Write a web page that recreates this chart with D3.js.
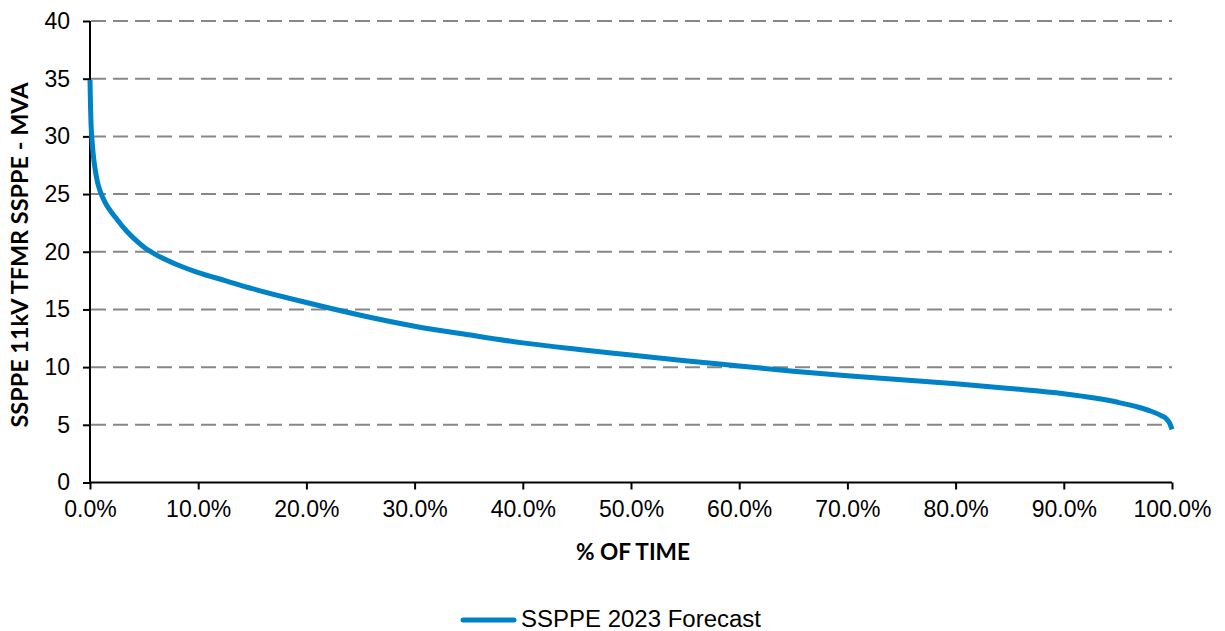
<!DOCTYPE html>
<html>
<head>
<meta charset="utf-8">
<script src="https://cdn.jsdelivr.net/npm/d3@7"></script>
<style>
  html, body { margin: 0; padding: 0; background: #fff; }
  svg { display: block; }
</style>
</head>
<body>
<svg id="chart" width="1225" height="631"></svg>
<script>
// Load duration curve: share of time (%) vs transformer load (MVA)
const timePct = [0, 0.05, 0.1, 0.2, 0.35, 0.5, 0.7, 1, 1.5, 2, 2.5, 3, 4, 5, 6, 8, 10, 12.5, 15, 20, 25, 30, 35, 40, 45, 50, 55, 60, 65, 70, 75, 80, 85, 90, 93, 95, 97, 98, 99, 99.5, 99.8, 100];
const loadMVA = [34.9, 32.5, 31, 29.5, 28, 27, 26, 25.1, 24.1, 23.4, 22.8, 22.2, 21.2, 20.4, 19.8, 18.9, 18.2, 17.5, 16.8, 15.6, 14.5, 13.55, 12.8, 12.1, 11.55, 11.05, 10.55, 10.1, 9.65, 9.25, 8.9, 8.55, 8.15, 7.7, 7.3, 6.95, 6.5, 6.2, 5.8, 5.5, 5.1, 4.6];
const yTicks = [0, 5, 10, 15, 20, 25, 30, 35, 40];
const xTicks = [0, 10, 20, 30, 40, 50, 60, 70, 80, 90, 100];
const seriesName = "SSPPE 2023 Forecast";
const xTitle = "% OF TIME";
const yTitle = "SSPPE 11kV TFMR SSPPE - MVA";

const svg = d3.select("#chart");
const plotLeft = 90, plotRight = 1172, plotTop = 21, plotBottom = 482.5;

const x = d3.scaleLinear().domain([0, 100]).range([plotLeft, plotRight]);
const y = d3.scaleLinear().domain([0, 40]).range([plotBottom, plotTop]);

const tickFont = "'Liberation Sans', Arial, sans-serif";
const titleFont = "Lato, 'Open Sans', sans-serif";

// dashed horizontal gridlines
svg.append("g")
  .selectAll("line")
  .data(yTicks.filter(d => d > 0))
  .join("line")
  .attr("x1", plotLeft + 1).attr("x2", plotRight)
  .attr("y1", d => y(d)).attr("y2", d => y(d))
  .attr("stroke", "#878787")
  .attr("stroke-width", 2)
  .attr("stroke-dasharray", "15,7");

// y axis
const yAxis = svg.append("g")
  .attr("transform", `translate(${plotLeft},0)`)
  .call(d3.axisLeft(y).tickValues(yTicks).tickSize(7).tickPadding(13).tickFormat(d3.format("d")));
yAxis.select(".domain").attr("stroke", "#000").attr("stroke-width", 2).attr("d", `M0,${plotBottom}V${plotTop}`);
yAxis.selectAll(".tick line").attr("stroke", "#000").attr("stroke-width", 2);
yAxis.selectAll(".tick text")
  .attr("font-family", tickFont).attr("font-size", 23).attr("fill", "#000");

// x axis
const xAxis = svg.append("g")
  .attr("transform", `translate(0,${plotBottom})`)
  .call(d3.axisBottom(x).tickValues(xTicks).tickSize(7).tickPadding(11).tickFormat(d => d3.format(".1f")(d) + "%"));
xAxis.select(".domain").attr("stroke", "#000").attr("stroke-width", 2).attr("d", `M${plotLeft},0H${plotRight}`);
xAxis.selectAll(".tick line").attr("stroke", "#000").attr("stroke-width", 2);
xAxis.selectAll(".tick text")
  .attr("font-family", tickFont).attr("font-size", 23).attr("fill", "#000");

// load duration curve
const pts = timePct.map((t, i) => [t, loadMVA[i]]);
const line = d3.line().x(d => x(d[0])).y(d => y(d[1])).curve(d3.curveMonotoneX);
svg.append("path")
  .datum(pts)
  .attr("d", line)
  .attr("fill", "none")
  .attr("stroke", "#0082C6")
  .attr("stroke-width", 5)
  .attr("stroke-linejoin", "round");

// axis titles
svg.append("text")
  .attr("x", 633).attr("y", 560)
  .attr("text-anchor", "middle")
  .attr("font-family", titleFont).attr("font-weight", "bold").attr("font-size", 23)
  .attr("textLength", 114).attr("lengthAdjust", "spacingAndGlyphs")
  .text(xTitle);

svg.append("text")
  .attr("transform", "translate(28,255) rotate(-90)")
  .attr("text-anchor", "middle")
  .attr("font-family", titleFont).attr("font-weight", "bold").attr("font-size", 22)
  .attr("textLength", 345).attr("lengthAdjust", "spacingAndGlyphs")
  .text(yTitle);

// legend
const legend = svg.append("g");
legend.append("line")
  .attr("x1", 463).attr("x2", 514).attr("y1", 620).attr("y2", 620)
  .attr("stroke", "#0082C6").attr("stroke-width", 5).attr("stroke-linecap", "round");
legend.append("text")
  .attr("x", 521).attr("y", 627)
  .attr("font-family", tickFont).attr("font-size", 23).attr("fill", "#000")
  .attr("textLength", 240).attr("lengthAdjust", "spacingAndGlyphs")
  .text(seriesName);
</script>
</body>
</html>
